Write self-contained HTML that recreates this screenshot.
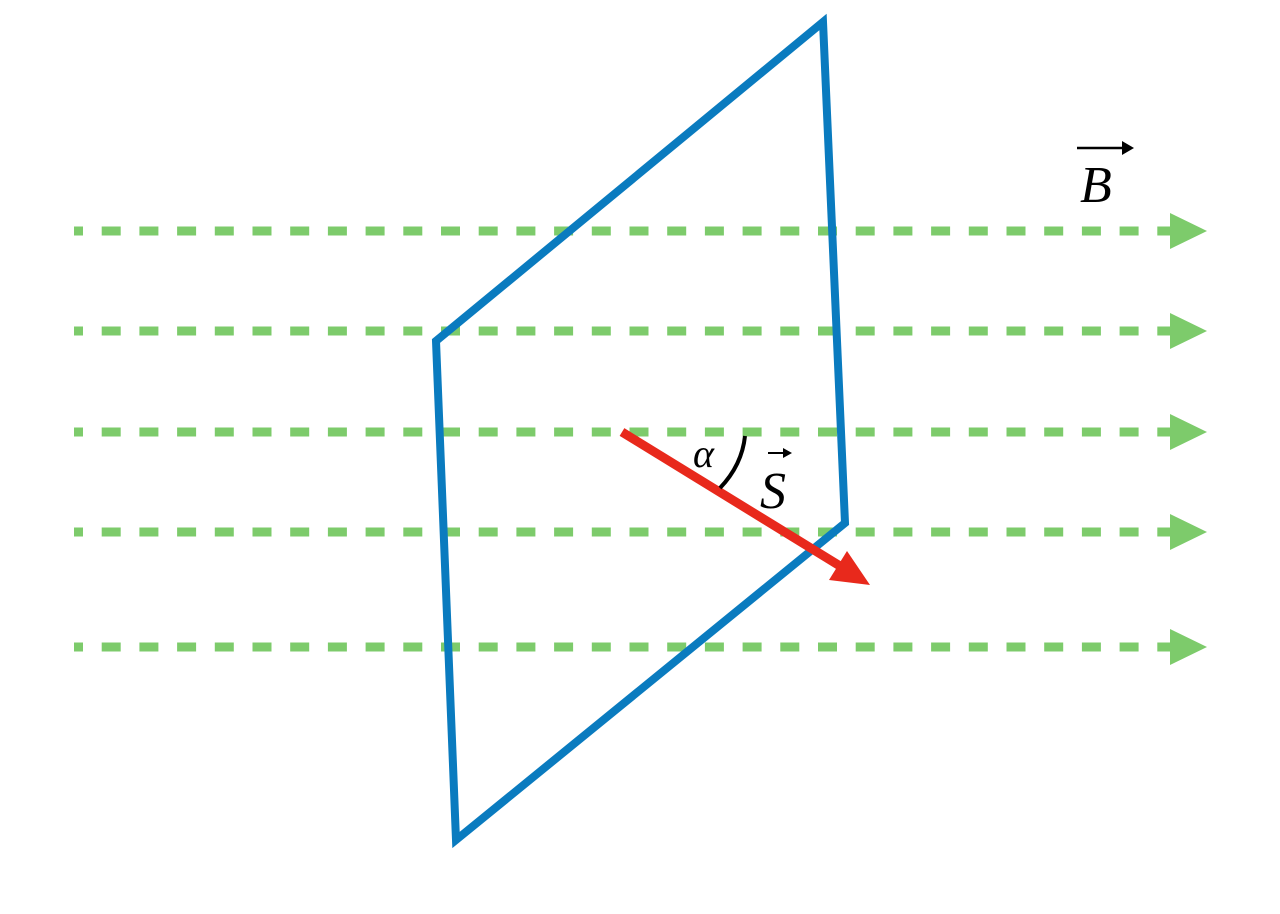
<!DOCTYPE html>
<html><head><style>html,body{margin:0;padding:0;background:#fff;}</style></head>
<body>
<svg width="1280" height="909" xmlns="http://www.w3.org/2000/svg">
<g stroke="#7dcb6b" stroke-width="9" stroke-dasharray="19 18.7" stroke-dashoffset="10">
<line x1="74" y1="231" x2="1172" y2="231"/>
<line x1="74" y1="331" x2="1172" y2="331"/>
<line x1="74" y1="432" x2="1172" y2="432"/>
<line x1="74" y1="532" x2="1172" y2="532"/>
<line x1="74" y1="647" x2="1172" y2="647"/>
</g>
<g fill="#7dcb6b">
<polygon points="1170,213 1207,231 1170,249"/>
<polygon points="1170,313 1207,331 1170,349"/>
<polygon points="1170,414 1207,432 1170,450"/>
<polygon points="1170,514 1207,532 1170,550"/>
<polygon points="1170,629 1207,647 1170,665"/>
</g>
<polygon points="823,22 436,341 456,840 845,523" fill="none" stroke="#0a7bbf" stroke-width="8" stroke-linejoin="miter"/>
<line x1="622" y1="432" x2="840" y2="566" stroke="#e8291c" stroke-width="9"/>
<polygon points="870,585 829,580 847,551" fill="#e8291c"/>
<path d="M745,436 Q742,465 720,488" fill="none" stroke="#000" stroke-width="4"/>
<text x="693" y="467" font-family="Liberation Serif,serif" font-style="italic" font-size="40">α</text>
<text x="760" y="508" font-family="Liberation Serif,serif" font-style="italic" font-size="52">S</text>
<line x1="768" y1="453" x2="788" y2="453" stroke="#000" stroke-width="2"/>
<polygon points="792,453 783,448 783,458" fill="#000"/>
<text x="1080" y="202" font-family="Liberation Serif,serif" font-style="italic" font-size="52">B</text>
<line x1="1077" y1="148" x2="1130" y2="148" stroke="#000" stroke-width="2.5"/>
<polygon points="1134,148 1122,141 1122,155" fill="#000"/>
</svg>
</body></html>
